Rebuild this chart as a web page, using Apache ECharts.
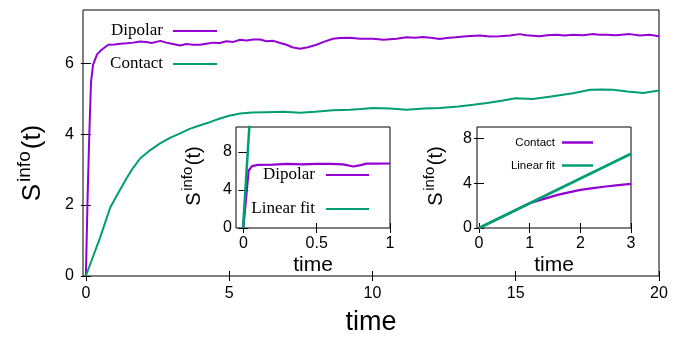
<!DOCTYPE html>
<html>
<head>
<meta charset="utf-8">
<script src="https://cdn.jsdelivr.net/npm/echarts@6/dist/echarts.min.js"></script>
<style>
  html, body { margin: 0; padding: 0; background: #fff; }
  #chart4 { width: 685px; height: 341px; }
</style>
</head>
<body>
<div id="chart4"></div>
<script>
// main panel: information entropy vs time
var dipolarT = [0, 0.06, 0.12, 0.18, 0.25, 0.39, 0.55, 0.78, 1.0, 1.2, 1.43, 1.65, 1.9, 2.1, 2.3, 2.6, 2.8, 3.0, 3.29, 3.5,
  3.75, 3.99, 4.2, 4.45, 4.68, 4.9, 5.15, 5.38, 5.6, 5.85, 6.08, 6.3, 6.55, 6.78, 7.0, 7.2, 7.47, 7.75, 8.05, 8.3,
  8.62, 8.87, 9.22, 9.56, 10.03, 10.38, 10.84, 11.19, 11.5, 11.77, 12.1, 12.35, 12.59, 12.9, 13.28, 13.75, 14.1, 14.44, 14.8, 15.14,
  15.37, 15.84, 16.1, 16.42, 16.7, 17.0, 17.35, 17.7, 17.9, 18.16, 18.5, 18.98, 19.33, 19.67, 20];
var dipolarS = [0, 2.2, 4.0, 5.47, 5.95, 6.25, 6.38, 6.52, 6.53, 6.55, 6.56, 6.58, 6.61, 6.6, 6.57, 6.63, 6.58, 6.55, 6.5, 6.54,
  6.52, 6.52, 6.55, 6.58, 6.57, 6.62, 6.6, 6.66, 6.64, 6.67, 6.67, 6.62, 6.63, 6.57, 6.52, 6.45, 6.41, 6.45, 6.52, 6.6,
  6.69, 6.71, 6.72, 6.69, 6.69, 6.66, 6.69, 6.73, 6.72, 6.74, 6.71, 6.68, 6.71, 6.73, 6.76, 6.78, 6.75, 6.76, 6.78, 6.82,
  6.79, 6.76, 6.79, 6.8, 6.78, 6.8, 6.79, 6.82, 6.8, 6.8, 6.79, 6.82, 6.78, 6.8, 6.76];

var contactT = [0, 0.25, 0.5, 0.85, 1.1, 1.43, 1.65, 1.9, 2.25, 2.59, 2.95, 3.29, 3.6, 3.99, 4.3, 4.68, 5.0, 5.38, 5.8, 6.31,
  6.9, 7.47, 8.0, 8.62, 9.22, 9.6, 10.03, 10.6, 11.19, 11.8, 12.35, 13.0, 13.52, 14.0, 14.5, 15.0, 15.6, 16.3, 17.0, 17.6,
  18.0, 18.4, 18.9, 19.45, 20];
var contactS = [0, 0.55, 1.09, 1.93, 2.3, 2.77, 3.05, 3.32, 3.55, 3.74, 3.9, 4.02, 4.14, 4.25, 4.33, 4.44, 4.52, 4.58, 4.61, 4.62,
  4.63, 4.6, 4.63, 4.67, 4.69, 4.71, 4.74, 4.72, 4.69, 4.72, 4.74, 4.78, 4.83, 4.88, 4.94, 5.01, 4.99, 5.07, 5.15, 5.25,
  5.26, 5.25, 5.2, 5.16, 5.23];

// inset 1: dipolar, short times
var in1DipolarT = [0, 0.036, 0.059, 0.1, 0.2, 0.3, 0.4, 0.5, 0.6, 0.68, 0.75, 0.8, 0.84, 0.92, 1.0];
var in1DipolarS = [0, 6.03, 6.5, 6.62, 6.66, 6.72, 6.68, 6.72, 6.74, 6.68, 6.45, 6.6, 6.75, 6.76, 6.77];
var in1FitT = [-0.002, 0.05];
var in1FitS = [0, 12.85];

// inset 2: contact, short times
var in2ContactT = [0, 0.5, 1.0, 1.25, 1.55, 1.75, 2.0, 2.25, 2.5, 2.75, 3.0];
var in2ContactS = [0, 1.1, 2.2, 2.55, 2.95, 3.15, 3.4, 3.56, 3.7, 3.82, 3.94];
var in2FitT = [0, 3];
var in2FitS = [0, 6.62];

// tick labels
var mainXTicks = [0, 5, 10, 15, 20];
var mainYTicks = [0, 2, 4, 6];
var in1XTicks = [0, 0.5, 1];
var in1YTicks = [0, 4, 8];
var in2XTicks = [0, 1, 2, 3];
var in2YTicks = [0, 4, 8];

var PURPLE = '#9400d3';
var GREEN = '#009e73';
var SANS = 'Liberation Sans';
var SERIF = 'Liberation Serif';

var zip = function (a, b) {
  return a.map(function (v, i) { return [v, b[i]]; });
};

// one axis of a gnuplot-like frame: ticks inside, labels optional
var axis = function (grid, pos, min, max, ticks, labels, margin, extra) {
  var a = {
    type: 'value',
    gridIndex: grid,
    position: pos,
    min: min,
    max: max,
    axisLine: { show: false },
    splitLine: { show: false },
    axisTick: {
      show: true,
      inside: true,
      length: 5,
      customValues: ticks,
      lineStyle: { color: '#000', width: 1 }
    },
    axisLabel: {
      show: labels,
      customValues: ticks,
      margin: margin,
      fontFamily: SANS,
      fontSize: 16,
      color: '#000'
    }
  };
  return Object.assign(a, extra || {});
};

var timeName = function (size, gap) {
  return {
    name: 'time',
    nameLocation: 'middle',
    nameGap: gap,
    nameTextStyle: { fontFamily: SANS, fontSize: size, color: '#000' }
  };
};

// rotated S^info(t) label, superscript lifted with verticalAlign top
var yTitle = function (x, y, big, small, pad) {
  return {
    type: 'text',
    x: x,
    y: y,
    rotation: Math.PI / 2,
    silent: true,
    style: {
      text: '{s|S}{sup|info}{p|(t)}',
      align: 'center',
      verticalAlign: 'middle',
      fill: '#000',
      rich: {
        s: { fontFamily: SANS, fontSize: big, lineHeight: Math.round(big * 1.4), fill: '#000' },
        sup: { fontFamily: SANS, fontSize: small, lineHeight: small, verticalAlign: 'top', padding: [0, pad, 0, pad], fill: '#000' },
        p: { fontFamily: SANS, fontSize: big, lineHeight: Math.round(big * 1.4), fill: '#000' }
      }
    }
  };
};

var line = function (name, data, color, xi, width) {
  return {
    name: name,
    type: 'line',
    xAxisIndex: xi,
    yAxisIndex: xi,
    data: data,
    color: color,
    showSymbol: false,
    symbol: 'none',
    clip: true,
    lineStyle: { width: width, color: color },
    silent: true
  };
};

var chart = echarts.init(document.getElementById('chart4'), null, { renderer: 'canvas' });

var option = {
  animation: false,
  backgroundColor: '#fff',
  grid: [
    { left: 83, top: 10, width: 576, height: 269, show: true, borderColor: '#000', borderWidth: 1 },
    { left: 236, top: 127, width: 154, height: 101, show: true, borderColor: '#000', borderWidth: 1, backgroundColor: '#fff' },
    { left: 477, top: 127, width: 154, height: 101, show: true, borderColor: '#000', borderWidth: 1, backgroundColor: '#fff' }
  ],
  xAxis: [
    axis(0, 'bottom', -0.1, 20, mainXTicks, true, 10, timeName(27, 33)),
    axis(0, 'top', -0.1, 20, mainXTicks, false, 9),
    axis(1, 'bottom', -0.05, 1, in1XTicks, true, 8, timeName(21, 27)),
    axis(1, 'top', -0.05, 1, in1XTicks, false, 8),
    axis(2, 'bottom', -0.04, 3, in2XTicks, true, 8, timeName(21, 27)),
    axis(2, 'top', -0.04, 3, in2XTicks, false, 8)
  ],
  yAxis: [
    axis(0, 'left', 0, 7.5, mainYTicks, true, 9),
    axis(0, 'right', 0, 7.5, mainYTicks, false, 9),
    axis(1, 'left', 0, 10.6, in1YTicks, true, 4),
    axis(1, 'right', 0, 10.6, in1YTicks, false, 4),
    axis(2, 'left', 0, 9, in2YTicks, true, 5),
    axis(2, 'right', 0, 9, in2YTicks, false, 5)
  ],
  legend: [
    {
      data: ['Dipolar', 'Contact'],
      orient: 'vertical',
      right: 468,
      top: 22,
      padding: 0,
      align: 'right',
      icon: 'rect',
      itemWidth: 44,
      itemHeight: 2,
      itemGap: 15,
      selectedMode: false,
      textStyle: { fontFamily: SERIF, fontSize: 17, lineHeight: 18, color: '#000', padding: [0, 5, 0, 0] }
    },
    {
      data: ['Dipolar', 'Linear fit'],
      orient: 'vertical',
      right: 316,
      top: 166,
      padding: 0,
      align: 'right',
      icon: 'rect',
      itemWidth: 43,
      itemHeight: 2,
      itemGap: 16,
      selectedMode: false,
      textStyle: { fontFamily: SERIF, fontSize: 17, lineHeight: 18, color: '#000', padding: [0, 6, 0, 0] }
    },
    {
      data: ['Contact ', 'Linear fit '],
      orient: 'vertical',
      right: 92,
      top: 136,
      padding: 0,
      align: 'right',
      icon: 'rect',
      itemWidth: 31,
      itemHeight: 2.5,
      itemGap: 10,
      selectedMode: false,
      formatter: function (name) { return name.trim(); },
      textStyle: { fontFamily: SANS, fontSize: 11.5, lineHeight: 13, color: '#000', padding: [0, 2, 0, 0] }
    }
  ],
  graphic: [
    yTitle(33, 163, 26, 19, 2),
    yTitle(194, 176, 20, 15, 1.5),
    yTitle(436, 176, 20, 15, 1.5)
  ],
  series: [
    line('Dipolar', zip(dipolarT, dipolarS), PURPLE, 0, 2),
    line('Contact', zip(contactT, contactS), GREEN, 0, 2),
    line('Dipolar', zip(in1DipolarT, in1DipolarS), PURPLE, 2, 2.2),
    line('Linear fit', zip(in1FitT, in1FitS), GREEN, 2, 2.5),
    line('Contact ', zip(in2ContactT, in2ContactS), PURPLE, 4, 2.2),
    line('Linear fit ', zip(in2FitT, in2FitS), GREEN, 4, 2.8)
  ]
};

option && chart.setOption(option);
</script>
</body>
</html>
